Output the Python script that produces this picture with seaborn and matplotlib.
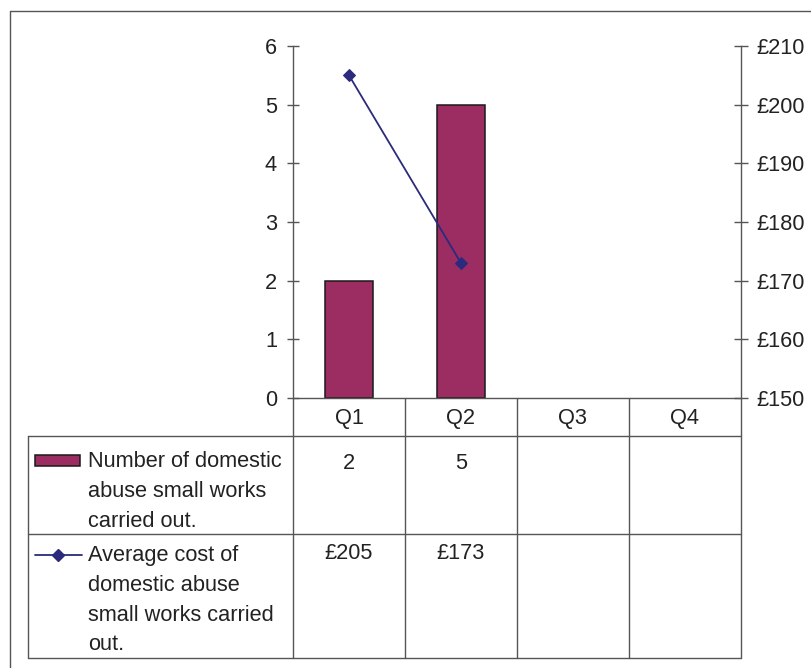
import numpy as np
import pandas as pd
import matplotlib.pyplot as plt
import seaborn as sns
from matplotlib.lines import Line2D
from matplotlib.patches import Rectangle

quarters = ["Q1", "Q2", "Q3", "Q4"]
works_count = [2, 5, np.nan, np.nan]
avg_cost = [205, 173, np.nan, np.nan]
bar_label = "Number of domestic\nabuse small works\ncarried out."
line_label = "Average cost of\ndomestic abuse\nsmall works carried\nout."

bar_col = "#9B2D62"
line_col = "#2B2A7C"
grid_col = "#555555"
txt_col = "#222222"
fs = 15.7

sns.set_style("white")
plt.rcParams["font.family"] = ["Liberation Sans", "DejaVu Sans"]

W, H = 812, 668
fig = plt.figure(figsize=(W / 100, H / 100), dpi=100)

def fx(px):
    return px / W

def fy(py):
    return 1 - py / H

# plot area in pixels
x0, x1, y0, y1 = 293, 741, 46, 398
ax = fig.add_axes([fx(x0), fy(y1), fx(x1) - fx(x0), fy(y0) - fy(y1)])

df = pd.DataFrame({"quarter": quarters, "count": works_count})
sns.barplot(data=df, x="quarter", y="count", order=quarters, ax=ax,
            color=bar_col, saturation=1, width=0.42, edgecolor="#1a1a1a", linewidth=1.1)
ax.set_ylim(0, 6)
ax.set_xlim(-0.5, 3.5)
ax.set_xlabel("")
ax.set_ylabel("")
ax.set_yticks(range(0, 7))
ax.tick_params(axis="y", direction="inout", length=9, width=1, color=grid_col,
               labelsize=fs, labelcolor=txt_col, pad=7)
ax.tick_params(axis="x", length=0, labelsize=fs, labelcolor=txt_col, pad=7)
for s in ["top", "right"]:
    ax.spines[s].set_visible(False)
for s in ["left", "bottom"]:
    ax.spines[s].set_color(grid_col)
    ax.spines[s].set_linewidth(1)

ax2 = ax.twinx()
ldf = pd.DataFrame({"x": range(len(quarters)), "cost": avg_cost}).dropna()
sns.lineplot(data=ldf, x="x", y="cost", ax=ax2, color=line_col, marker="D",
             markersize=6, markeredgecolor=line_col, linewidth=1.3)
ax2.set_ylim(150, 210)
ax2.set_xlim(-0.5, 3.5)
ax2.set_yticks(range(150, 211, 10))
ax2.set_yticklabels([f"£{v}" for v in range(150, 211, 10)])
ax2.set_ylabel("")
ax2.tick_params(axis="y", direction="inout", length=10, width=1, color=grid_col,
                labelsize=fs, labelcolor=txt_col, pad=6)
for s in ["top", "left", "bottom"]:
    ax2.spines[s].set_visible(False)
ax2.spines["right"].set_color(grid_col)
ax2.spines["right"].set_linewidth(1)

# data table below
def hline(y, xa, xb):
    fig.add_artist(Line2D([fx(xa), fx(xb)], [fy(y), fy(y)], color=grid_col, lw=1))

def vline(x, ya, yb):
    fig.add_artist(Line2D([fx(x), fx(x)], [fy(ya), fy(yb)], color=grid_col, lw=1))

t_left, r0, r1, r2 = 28, 436, 534, 658
col_edges = [293, 405, 517, 629, 741]
for y in (r0, r1, r2):
    hline(y, t_left, col_edges[-1])
vline(t_left, r0, r2)
for x in col_edges:
    vline(x, y1, r2)

# outer chart frame
hline(11, 10, W)
vline(10, 11, H)

# legend keys
fig.add_artist(Rectangle((fx(35), fy(466)), fx(80) - fx(35), fy(455) - fy(466),
                         facecolor=bar_col, edgecolor="#1a1a1a", lw=1.1))
fig.add_artist(Line2D([fx(35), fx(82)], [fy(555), fy(555)], color=line_col, lw=1.3))
fig.add_artist(Line2D([fx(58)], [fy(555)], color=line_col, marker="D", markersize=6))

fig.text(fx(88), fy(451), bar_label, ha="left", va="top", fontsize=fs,
         color=txt_col, linespacing=1.55)
fig.text(fx(88), fy(545), line_label, ha="left", va="top", fontsize=fs,
         color=txt_col, linespacing=1.55)

for i in range(len(quarters)):
    cx = (col_edges[i] + col_edges[i + 1]) / 2
    if not np.isnan(works_count[i]):
        fig.text(fx(cx), fy(453), f"{works_count[i]:g}", ha="center", va="top",
                 fontsize=fs, color=txt_col)
    if not np.isnan(avg_cost[i]):
        fig.text(fx(cx), fy(543), f"£{avg_cost[i]:g}", ha="center", va="top",
                 fontsize=fs, color=txt_col)

fig.savefig("out.png", dpi=100)
